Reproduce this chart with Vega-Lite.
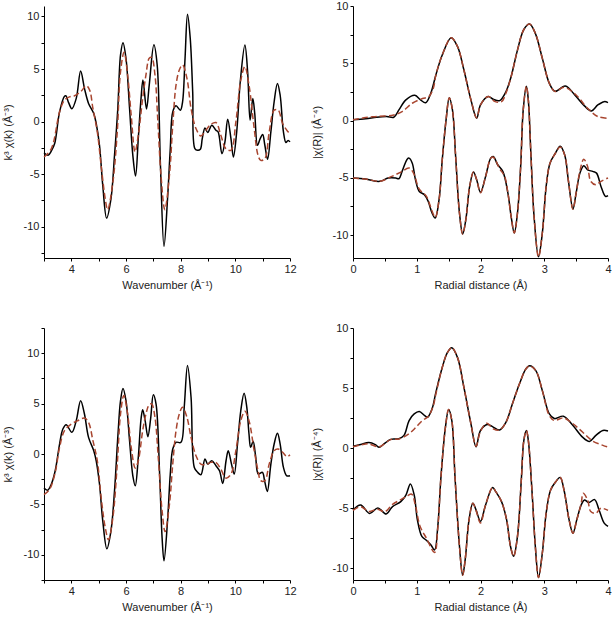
{
"$schema": "https://vega.github.io/schema/vega-lite/v6.json",
"padding": {"left": 2, "top": 0, "right": 5, "bottom": 5},
"background": "white",
"config": {
  "view": {"stroke": null},
  "font": "Liberation Sans",
  "axis": {"grid": false, "domainColor": "#000", "tickColor": "#000", "tickSize": 3, "labelPadding": 2, "labelFontSize": 11, "titleFontSize": 11, "titleFontWeight": "normal", "labelColor": "#222", "titleColor": "#222", "labelOverlap": false, "labelFlush": false, "labelFont": "Liberation Sans", "titleFont": "Liberation Sans"},
  "axisY": {"titlePadding": 10},
  "axisX": {"titlePadding": 5},
  "line": {"interpolate": "catmull-rom", "strokeWidth": 1.5}
},
"bounds": "flush",
"columns": 2,
"spacing": {"row": 70, "column": 63},
"datasets": {
"tl": [
{"s":"e","x":3.0,"y":-2.98},{"s":"e","x":3.15,"y":-3.22},{"s":"e","x":3.27,"y":-2.8},{"s":"e","x":3.39,"y":-2.1},{"s":"e","x":3.57,"y":0.92},{"s":"e","x":3.75,"y":2.4},{"s":"e","x":3.8,"y":2.45},{"s":"e","x":3.9,"y":1.8},{"s":"e","x":4.02,"y":1.22},{"s":"e","x":4.18,"y":2.2},{"s":"e","x":4.34,"y":4.8},{"s":"e","x":4.48,"y":3.15},{"s":"e","x":4.63,"y":1.72},{"s":"e","x":4.82,"y":0.76},{"s":"e","x":4.91,"y":-0.19},{"s":"e","x":5.03,"y":-2.26},{"s":"e","x":5.15,"y":-6.1},{"s":"e","x":5.29,"y":-9.2},{"s":"e","x":5.45,"y":-7.36},{"s":"e","x":5.58,"y":-3.22},{"s":"e","x":5.7,"y":1.24},{"s":"e","x":5.8,"y":6.34},{"s":"e","x":5.89,"y":7.5},{"s":"e","x":6.0,"y":6.0},{"s":"e","x":6.13,"y":1.24},{"s":"e","x":6.25,"y":-3.22},{"s":"e","x":6.35,"y":-5.2},{"s":"e","x":6.45,"y":-1.6},{"s":"e","x":6.55,"y":2.2},{"s":"e","x":6.62,"y":3.95},{"s":"e","x":6.75,"y":1.2},{"s":"e","x":6.85,"y":3.47},{"s":"e","x":7.02,"y":7.3},{"s":"e","x":7.14,"y":5.4},{"s":"e","x":7.26,"y":-4.17},{"s":"e","x":7.39,"y":-11.9},{"s":"e","x":7.52,"y":-7.36},{"s":"e","x":7.62,"y":-2.58},{"s":"e","x":7.71,"y":0.92},{"s":"e","x":7.83,"y":1.5},{"s":"e","x":7.99,"y":1.08},{"s":"e","x":8.07,"y":1.88},{"s":"e","x":8.16,"y":6.0},{"s":"e","x":8.25,"y":10.22},{"s":"e","x":8.35,"y":7.93},{"s":"e","x":8.44,"y":2.83},{"s":"e","x":8.52,"y":-2.58},{"s":"e","x":8.62,"y":-2.74},{"s":"e","x":8.72,"y":-2.64},{"s":"e","x":8.79,"y":-1.63},{"s":"e","x":8.89,"y":-0.61},{"s":"e","x":8.99,"y":-1.05},{"s":"e","x":9.14,"y":-0.35},{"s":"e","x":9.29,"y":-0.83},{"s":"e","x":9.37,"y":-0.99},{"s":"e","x":9.51,"y":-3.06},{"s":"e","x":9.62,"y":-1.94},{"s":"e","x":9.72,"y":0.22},{"s":"e","x":9.84,"y":-1.63},{"s":"e","x":9.93,"y":-3.38},{"s":"e","x":10.05,"y":-0.99},{"s":"e","x":10.18,"y":3.79},{"s":"e","x":10.35,"y":7.29},{"s":"e","x":10.45,"y":4.74},{"s":"e","x":10.54,"y":0.13},{"s":"e","x":10.64,"y":2.2},{"s":"e","x":10.71,"y":0.76},{"s":"e","x":10.81,"y":-2.26},{"s":"e","x":10.91,"y":-1.63},{"s":"e","x":11.0,"y":-1.24},{"s":"e","x":11.08,"y":-2.26},{"s":"e","x":11.18,"y":-3.6},{"s":"e","x":11.3,"y":-0.99},{"s":"e","x":11.42,"y":1.88},{"s":"e","x":11.54,"y":3.63},{"s":"e","x":11.64,"y":2.5},{"s":"e","x":11.76,"y":-0.99},{"s":"e","x":11.85,"y":-2.0},{"s":"e","x":11.93,"y":-1.8},{"s":"e","x":12.0,"y":-1.94},
{"s":"f","x":3.0,"y":-3.38},{"s":"f","x":3.27,"y":-2.58},{"s":"f","x":3.57,"y":0.92},{"s":"f","x":3.75,"y":2.04},{"s":"f","x":3.93,"y":2.35},{"s":"f","x":4.12,"y":2.45},{"s":"f","x":4.34,"y":2.83},{"s":"f","x":4.55,"y":3.4},{"s":"f","x":4.67,"y":2.99},{"s":"f","x":4.79,"y":1.24},{"s":"f","x":4.95,"y":-0.99},{"s":"f","x":5.09,"y":-4.17},{"s":"f","x":5.24,"y":-7.36},{"s":"f","x":5.33,"y":-8.4},{"s":"f","x":5.52,"y":-5.77},{"s":"f","x":5.68,"y":-0.99},{"s":"f","x":5.8,"y":4.74},{"s":"f","x":5.93,"y":6.6},{"s":"f","x":6.06,"y":4.43},{"s":"f","x":6.19,"y":0.6},{"s":"f","x":6.33,"y":-2.9},{"s":"f","x":6.45,"y":-1.31},{"s":"f","x":6.61,"y":2.2},{"s":"f","x":6.73,"y":4.43},{"s":"f","x":6.85,"y":6.02},{"s":"f","x":6.94,"y":6.1},{"s":"f","x":7.06,"y":4.43},{"s":"f","x":7.16,"y":0.28},{"s":"f","x":7.28,"y":-5.1},{"s":"f","x":7.42,"y":-8.4},{"s":"f","x":7.59,"y":-5.1},{"s":"f","x":7.71,"y":-0.35},{"s":"f","x":7.83,"y":3.47},{"s":"f","x":7.95,"y":4.9},{"s":"f","x":8.07,"y":5.38},{"s":"f","x":8.23,"y":4.1},{"s":"f","x":8.38,"y":1.24},{"s":"f","x":8.56,"y":-0.67},{"s":"f","x":8.74,"y":-1.37},{"s":"f","x":8.92,"y":-0.83},{"s":"f","x":9.1,"y":-0.29},{"s":"f","x":9.29,"y":-0.1},{"s":"f","x":9.47,"y":-1.31},{"s":"f","x":9.65,"y":-2.58},{"s":"f","x":9.84,"y":-2.74},{"s":"f","x":10.02,"y":-0.03},{"s":"f","x":10.2,"y":3.95},{"s":"f","x":10.35,"y":5.22},{"s":"f","x":10.5,"y":3.47},{"s":"f","x":10.69,"y":-0.67},{"s":"f","x":10.83,"y":-3.22},{"s":"f","x":10.93,"y":-3.7},{"s":"f","x":11.08,"y":-3.54},{"s":"f","x":11.24,"y":-0.99},{"s":"f","x":11.42,"y":1.08},{"s":"f","x":11.57,"y":1.08},{"s":"f","x":11.73,"y":-0.19},{"s":"f","x":11.91,"y":-0.92},{"s":"f","x":12.0,"y":-1.15}
],
"tr": [
{"s":"e","c":"m","x":0,"y":0.06},{"s":"e","c":"m","x":0.2,"y":0.15},{"s":"e","c":"m","x":0.37,"y":0.29},{"s":"e","c":"m","x":0.53,"y":0.35},{"s":"e","c":"m","x":0.64,"y":0.29},{"s":"e","c":"m","x":0.72,"y":0.93},{"s":"e","c":"m","x":0.83,"y":1.8},{"s":"e","c":"m","x":0.97,"y":2.2},{"s":"e","c":"m","x":1.06,"y":1.8},{"s":"e","c":"m","x":1.14,"y":1.55},{"s":"e","c":"m","x":1.22,"y":2.38},{"s":"e","c":"m","x":1.3,"y":3.98},{"s":"e","c":"m","x":1.4,"y":5.72},{"s":"e","c":"m","x":1.54,"y":7.23},{"s":"e","c":"m","x":1.64,"y":6.45},{"s":"e","c":"m","x":1.74,"y":4.41},{"s":"e","c":"m","x":1.85,"y":1.8},{"s":"e","c":"m","x":1.94,"y":0.2},{"s":"e","c":"m","x":2.0,"y":1.36},{"s":"e","c":"m","x":2.12,"y":2.1},{"s":"e","c":"m","x":2.2,"y":1.86},{"s":"e","c":"m","x":2.3,"y":1.74},{"s":"e","c":"m","x":2.4,"y":2.53},{"s":"e","c":"m","x":2.48,"y":3.83},{"s":"e","c":"m","x":2.58,"y":6.15},{"s":"e","c":"m","x":2.68,"y":7.95},{"s":"e","c":"m","x":2.77,"y":8.42},{"s":"e","c":"m","x":2.86,"y":7.61},{"s":"e","c":"m","x":2.97,"y":5.43},{"s":"e","c":"m","x":3.08,"y":3.25},{"s":"e","c":"m","x":3.17,"y":2.55},{"s":"e","c":"m","x":3.33,"y":3.02},{"s":"e","c":"m","x":3.5,"y":2.09},{"s":"e","c":"m","x":3.63,"y":1.28},{"s":"e","c":"m","x":3.74,"y":0.84},{"s":"e","c":"m","x":3.84,"y":1.36},{"s":"e","c":"m","x":3.94,"y":1.65},{"s":"e","c":"m","x":4.0,"y":1.57},
{"s":"f","c":"m","x":0,"y":0.06},{"s":"f","c":"m","x":0.2,"y":0.26},{"s":"f","c":"m","x":0.37,"y":0.35},{"s":"f","c":"m","x":0.64,"y":0.49},{"s":"f","c":"m","x":0.77,"y":0.78},{"s":"f","c":"m","x":0.93,"y":1.51},{"s":"f","c":"m","x":1.09,"y":1.92},{"s":"f","c":"m","x":1.19,"y":2.09},{"s":"f","c":"m","x":1.26,"y":2.82},{"s":"f","c":"m","x":1.3,"y":3.98},{"s":"f","c":"m","x":1.4,"y":5.72},{"s":"f","c":"m","x":1.54,"y":7.23},{"s":"f","c":"m","x":1.64,"y":6.45},{"s":"f","c":"m","x":1.74,"y":4.41},{"s":"f","c":"m","x":1.85,"y":1.8},{"s":"f","c":"m","x":1.94,"y":0.25},{"s":"f","c":"m","x":2.0,"y":1.36},{"s":"f","c":"m","x":2.12,"y":2.1},{"s":"f","c":"m","x":2.23,"y":1.65},{"s":"f","c":"m","x":2.33,"y":1.65},{"s":"f","c":"m","x":2.4,"y":2.4},{"s":"f","c":"m","x":2.48,"y":3.83},{"s":"f","c":"m","x":2.58,"y":6.15},{"s":"f","c":"m","x":2.68,"y":7.95},{"s":"f","c":"m","x":2.77,"y":8.42},{"s":"f","c":"m","x":2.86,"y":7.61},{"s":"f","c":"m","x":2.97,"y":5.43},{"s":"f","c":"m","x":3.08,"y":3.25},{"s":"f","c":"m","x":3.17,"y":2.53},{"s":"f","c":"m","x":3.31,"y":2.9},{"s":"f","c":"m","x":3.5,"y":2.23},{"s":"f","c":"m","x":3.68,"y":1.07},{"s":"f","c":"m","x":3.84,"y":0.35},{"s":"f","c":"m","x":4.0,"y":0.2},
{"s":"e","c":"r","x":0,"y":-5.02},{"s":"e","c":"r","x":0.2,"y":-5.11},{"s":"e","c":"r","x":0.42,"y":-5.31},{"s":"e","c":"r","x":0.55,"y":-5.02},{"s":"e","c":"r","x":0.67,"y":-5.02},{"s":"e","c":"r","x":0.72,"y":-5.08},{"s":"e","c":"r","x":0.77,"y":-4.44},{"s":"e","c":"r","x":0.85,"y":-3.37},{"s":"e","c":"r","x":0.88,"y":-3.28},{"s":"e","c":"r","x":0.93,"y":-3.72},{"s":"e","c":"r","x":0.98,"y":-5.17},{"s":"e","c":"r","x":1.04,"y":-6.19},{"s":"e","c":"r","x":1.12,"y":-6.48},{"s":"e","c":"r","x":1.18,"y":-7.06},{"s":"e","c":"r","x":1.24,"y":-8.07},{"s":"e","c":"r","x":1.29,"y":-8.51},{"s":"e","c":"r","x":1.35,"y":-6.91},{"s":"e","c":"r","x":1.4,"y":-3.43},{"s":"e","c":"r","x":1.46,"y":0.06},{"s":"e","c":"r","x":1.51,"y":2.0},{"s":"e","c":"r","x":1.56,"y":0.93},{"s":"e","c":"r","x":1.61,"y":-3.14},{"s":"e","c":"r","x":1.67,"y":-8.07},{"s":"e","c":"r","x":1.72,"y":-9.9},{"s":"e","c":"r","x":1.77,"y":-8.65},{"s":"e","c":"r","x":1.83,"y":-5.75},{"s":"e","c":"r","x":1.89,"y":-4.5},{"s":"e","c":"r","x":1.94,"y":-5.17},{"s":"e","c":"r","x":2.0,"y":-6.27},{"s":"e","c":"r","x":2.08,"y":-4.88},{"s":"e","c":"r","x":2.16,"y":-3.28},{"s":"e","c":"r","x":2.2,"y":-3.14},{"s":"e","c":"r","x":2.27,"y":-3.86},{"s":"e","c":"r","x":2.35,"y":-4.44},{"s":"e","c":"r","x":2.43,"y":-6.33},{"s":"e","c":"r","x":2.48,"y":-8.36},{"s":"e","c":"r","x":2.53,"y":-9.82},{"s":"e","c":"r","x":2.58,"y":-8.07},{"s":"e","c":"r","x":2.63,"y":-4.01},{"s":"e","c":"r","x":2.67,"y":0.93},{"s":"e","c":"r","x":2.72,"y":3.0},{"s":"e","c":"r","x":2.75,"y":1.8},{"s":"e","c":"r","x":2.79,"y":-2.85},{"s":"e","c":"r","x":2.84,"y":-8.36},{"s":"e","c":"r","x":2.91,"y":-11.9},{"s":"e","c":"r","x":2.97,"y":-9.82},{"s":"e","c":"r","x":3.03,"y":-5.75},{"s":"e","c":"r","x":3.09,"y":-3.72},{"s":"e","c":"r","x":3.17,"y":-2.9},{"s":"e","c":"r","x":3.25,"y":-2.25},{"s":"e","c":"r","x":3.32,"y":-2.99},{"s":"e","c":"r","x":3.38,"y":-5.31},{"s":"e","c":"r","x":3.45,"y":-7.72},{"s":"e","c":"r","x":3.5,"y":-6.33},{"s":"e","c":"r","x":3.56,"y":-4.59},{"s":"e","c":"r","x":3.62,"y":-3.95},{"s":"e","c":"r","x":3.68,"y":-4.3},{"s":"e","c":"r","x":3.76,"y":-4.44},{"s":"e","c":"r","x":3.82,"y":-4.59},{"s":"e","c":"r","x":3.89,"y":-5.75},{"s":"e","c":"r","x":3.96,"y":-6.62},{"s":"e","c":"r","x":4.0,"y":-6.56},
{"s":"f","c":"r","x":0,"y":-5.02},{"s":"f","c":"r","x":0.2,"y":-5.11},{"s":"f","c":"r","x":0.42,"y":-5.3},{"s":"f","c":"r","x":0.6,"y":-4.9},{"s":"f","c":"r","x":0.75,"y":-4.5},{"s":"f","c":"r","x":0.88,"y":-4.15},{"s":"f","c":"r","x":0.95,"y":-4.6},{"s":"f","c":"r","x":1.04,"y":-6.0},{"s":"f","c":"r","x":1.15,"y":-6.6},{"s":"f","c":"r","x":1.24,"y":-7.9},{"s":"f","c":"r","x":1.29,"y":-8.45},{"s":"f","c":"r","x":1.35,"y":-6.91},{"s":"f","c":"r","x":1.4,"y":-3.43},{"s":"f","c":"r","x":1.46,"y":0.06},{"s":"f","c":"r","x":1.51,"y":2.0},{"s":"f","c":"r","x":1.56,"y":0.93},{"s":"f","c":"r","x":1.61,"y":-3.14},{"s":"f","c":"r","x":1.67,"y":-8.07},{"s":"f","c":"r","x":1.72,"y":-9.9},{"s":"f","c":"r","x":1.77,"y":-8.65},{"s":"f","c":"r","x":1.83,"y":-5.75},{"s":"f","c":"r","x":1.89,"y":-4.5},{"s":"f","c":"r","x":1.94,"y":-5.17},{"s":"f","c":"r","x":2.0,"y":-6.3},{"s":"f","c":"r","x":2.08,"y":-4.88},{"s":"f","c":"r","x":2.16,"y":-3.3},{"s":"f","c":"r","x":2.2,"y":-3.2},{"s":"f","c":"r","x":2.3,"y":-4.2},{"s":"f","c":"r","x":2.38,"y":-4.9},{"s":"f","c":"r","x":2.43,"y":-6.33},{"s":"f","c":"r","x":2.48,"y":-8.36},{"s":"f","c":"r","x":2.53,"y":-9.82},{"s":"f","c":"r","x":2.58,"y":-8.07},{"s":"f","c":"r","x":2.63,"y":-4.01},{"s":"f","c":"r","x":2.67,"y":0.93},{"s":"f","c":"r","x":2.72,"y":3.0},{"s":"f","c":"r","x":2.75,"y":1.8},{"s":"f","c":"r","x":2.79,"y":-2.85},{"s":"f","c":"r","x":2.84,"y":-8.36},{"s":"f","c":"r","x":2.91,"y":-11.9},{"s":"f","c":"r","x":2.97,"y":-9.82},{"s":"f","c":"r","x":3.03,"y":-5.75},{"s":"f","c":"r","x":3.09,"y":-3.72},{"s":"f","c":"r","x":3.17,"y":-2.9},{"s":"f","c":"r","x":3.25,"y":-2.3},{"s":"f","c":"r","x":3.32,"y":-3.0},{"s":"f","c":"r","x":3.38,"y":-5.31},{"s":"f","c":"r","x":3.45,"y":-7.75},{"s":"f","c":"r","x":3.5,"y":-6.33},{"s":"f","c":"r","x":3.56,"y":-4.4},{"s":"f","c":"r","x":3.62,"y":-3.37},{"s":"f","c":"r","x":3.68,"y":-4.01},{"s":"f","c":"r","x":3.73,"y":-5.31},{"s":"f","c":"r","x":3.81,"y":-5.6},{"s":"f","c":"r","x":3.89,"y":-5.31},{"s":"f","c":"r","x":4.0,"y":-5.02}
],
"bl": [
{"s":"e","x":3.0,"y":-3.38},{"s":"e","x":3.13,"y":-3.6},{"s":"e","x":3.27,"y":-2.98},{"s":"e","x":3.41,"y":-1.66},{"s":"e","x":3.57,"y":0.99},{"s":"e","x":3.69,"y":2.48},{"s":"e","x":3.81,"y":2.91},{"s":"e","x":4.02,"y":2.15},{"s":"e","x":4.18,"y":3.31},{"s":"e","x":4.34,"y":5.29},{"s":"e","x":4.48,"y":3.97},{"s":"e","x":4.63,"y":1.65},{"s":"e","x":4.82,"y":0.33},{"s":"e","x":4.91,"y":-0.67},{"s":"e","x":5.03,"y":-2.98},{"s":"e","x":5.15,"y":-6.63},{"s":"e","x":5.3,"y":-9.4},{"s":"e","x":5.45,"y":-7.62},{"s":"e","x":5.58,"y":-3.65},{"s":"e","x":5.7,"y":1.65},{"s":"e","x":5.8,"y":5.29},{"s":"e","x":5.89,"y":6.5},{"s":"e","x":6.0,"y":5.29},{"s":"e","x":6.13,"y":1.32},{"s":"e","x":6.25,"y":-2.16},{"s":"e","x":6.34,"y":-3.15},{"s":"e","x":6.45,"y":-0.33},{"s":"e","x":6.55,"y":3.47},{"s":"e","x":6.61,"y":4.4},{"s":"e","x":6.7,"y":3.31},{"s":"e","x":6.8,"y":1.72},{"s":"e","x":6.9,"y":3.47},{"s":"e","x":7.0,"y":5.89},{"s":"e","x":7.1,"y":4.96},{"s":"e","x":7.23,"y":-1.99},{"s":"e","x":7.32,"y":-8.28},{"s":"e","x":7.39,"y":-10.6},{"s":"e","x":7.52,"y":-6.63},{"s":"e","x":7.62,"y":-1.99},{"s":"e","x":7.71,"y":0.49},{"s":"e","x":7.83,"y":1.16},{"s":"e","x":8.01,"y":1.16},{"s":"e","x":8.13,"y":4.63},{"s":"e","x":8.25,"y":8.77},{"s":"e","x":8.38,"y":5.63},{"s":"e","x":8.5,"y":-1.33},{"s":"e","x":8.62,"y":-1.82},{"s":"e","x":8.74,"y":-2.06},{"s":"e","x":8.89,"y":-0.5},{"s":"e","x":8.99,"y":-1.0},{"s":"e","x":9.14,"y":-0.67},{"s":"e","x":9.29,"y":-1.16},{"s":"e","x":9.42,"y":-1.66},{"s":"e","x":9.54,"y":-2.92},{"s":"e","x":9.66,"y":-0.67},{"s":"e","x":9.74,"y":0.33},{"s":"e","x":9.86,"y":-1.0},{"s":"e","x":9.96,"y":-1.99},{"s":"e","x":10.08,"y":0.99},{"s":"e","x":10.2,"y":4.3},{"s":"e","x":10.32,"y":6.02},{"s":"e","x":10.42,"y":4.63},{"s":"e","x":10.5,"y":1.98},{"s":"e","x":10.56,"y":0.66},{"s":"e","x":10.65,"y":1.26},{"s":"e","x":10.74,"y":-0.17},{"s":"e","x":10.84,"y":-1.99},{"s":"e","x":10.99,"y":-1.82},{"s":"e","x":11.07,"y":-2.65},{"s":"e","x":11.17,"y":-3.71},{"s":"e","x":11.3,"y":-1.0},{"s":"e","x":11.42,"y":0.99},{"s":"e","x":11.54,"y":2.05},{"s":"e","x":11.64,"y":0.99},{"s":"e","x":11.76,"y":-1.33},{"s":"e","x":11.88,"y":-2.16},{"s":"e","x":12.0,"y":-2.16},
{"s":"f","x":3.0,"y":-4.04},{"s":"f","x":3.21,"y":-3.48},{"s":"f","x":3.41,"y":-1.82},{"s":"f","x":3.57,"y":0.66},{"s":"f","x":3.75,"y":2.31},{"s":"f","x":4.0,"y":2.98},{"s":"f","x":4.24,"y":3.31},{"s":"f","x":4.48,"y":3.57},{"s":"f","x":4.63,"y":3.14},{"s":"f","x":4.79,"y":1.32},{"s":"f","x":4.95,"y":-0.67},{"s":"f","x":5.09,"y":-4.31},{"s":"f","x":5.24,"y":-7.29},{"s":"f","x":5.36,"y":-8.5},{"s":"f","x":5.52,"y":-6.3},{"s":"f","x":5.68,"y":-1.0},{"s":"f","x":5.8,"y":3.97},{"s":"f","x":5.92,"y":5.8},{"s":"f","x":6.06,"y":3.97},{"s":"f","x":6.19,"y":0.66},{"s":"f","x":6.34,"y":-1.4},{"s":"f","x":6.45,"y":-0.67},{"s":"f","x":6.61,"y":2.31},{"s":"f","x":6.73,"y":3.97},{"s":"f","x":6.85,"y":4.9},{"s":"f","x":6.94,"y":4.96},{"s":"f","x":7.06,"y":3.64},{"s":"f","x":7.18,"y":-0.33},{"s":"f","x":7.32,"y":-5.63},{"s":"f","x":7.43,"y":-7.7},{"s":"f","x":7.59,"y":-4.97},{"s":"f","x":7.71,"y":-1.0},{"s":"f","x":7.83,"y":2.31},{"s":"f","x":7.95,"y":3.97},{"s":"f","x":8.07,"y":4.65},{"s":"f","x":8.23,"y":3.64},{"s":"f","x":8.38,"y":1.65},{"s":"f","x":8.56,"y":-0.17},{"s":"f","x":8.74,"y":-1.0},{"s":"f","x":8.92,"y":-1.06},{"s":"f","x":9.1,"y":-0.83},{"s":"f","x":9.29,"y":-0.83},{"s":"f","x":9.47,"y":-1.49},{"s":"f","x":9.65,"y":-2.39},{"s":"f","x":9.84,"y":-1.99},{"s":"f","x":10.02,"y":0.33},{"s":"f","x":10.2,"y":3.31},{"s":"f","x":10.35,"y":4.24},{"s":"f","x":10.5,"y":3.31},{"s":"f","x":10.69,"y":0.33},{"s":"f","x":10.83,"y":-1.66},{"s":"f","x":10.93,"y":-2.65},{"s":"f","x":11.08,"y":-2.65},{"s":"f","x":11.24,"y":-1.0},{"s":"f","x":11.42,"y":0.33},{"s":"f","x":11.57,"y":0.49},{"s":"f","x":11.73,"y":0.17},{"s":"f","x":11.89,"y":-0.26},{"s":"f","x":12.0,"y":-0.07}
],
"br": [
{"s":"e","c":"m","x":0,"y":0.14},{"s":"e","c":"m","x":0.12,"y":0.3},{"s":"e","c":"m","x":0.25,"y":0.45},{"s":"e","c":"m","x":0.35,"y":0.28},{"s":"e","c":"m","x":0.41,"y":0.06},{"s":"e","c":"m","x":0.49,"y":0.36},{"s":"e","c":"m","x":0.59,"y":0.72},{"s":"e","c":"m","x":0.72,"y":0.77},{"s":"e","c":"m","x":0.8,"y":1.05},{"s":"e","c":"m","x":0.88,"y":2.29},{"s":"e","c":"m","x":0.96,"y":2.84},{"s":"e","c":"m","x":1.04,"y":3.04},{"s":"e","c":"m","x":1.12,"y":2.71},{"s":"e","c":"m","x":1.17,"y":2.57},{"s":"e","c":"m","x":1.24,"y":3.26},{"s":"e","c":"m","x":1.3,"y":4.64},{"s":"e","c":"m","x":1.4,"y":6.71},{"s":"e","c":"m","x":1.48,"y":7.95},{"s":"e","c":"m","x":1.55,"y":8.36},{"s":"e","c":"m","x":1.64,"y":7.53},{"s":"e","c":"m","x":1.74,"y":5.05},{"s":"e","c":"m","x":1.85,"y":2.02},{"s":"e","c":"m","x":1.93,"y":0.1},{"s":"e","c":"m","x":2.0,"y":1.46},{"s":"e","c":"m","x":2.11,"y":1.96},{"s":"e","c":"m","x":2.2,"y":1.74},{"s":"e","c":"m","x":2.3,"y":1.5},{"s":"e","c":"m","x":2.4,"y":2.15},{"s":"e","c":"m","x":2.5,"y":3.67},{"s":"e","c":"m","x":2.61,"y":5.33},{"s":"e","c":"m","x":2.71,"y":6.57},{"s":"e","c":"m","x":2.77,"y":6.85},{"s":"e","c":"m","x":2.87,"y":6.43},{"s":"e","c":"m","x":2.97,"y":4.78},{"s":"e","c":"m","x":3.08,"y":2.84},{"s":"e","c":"m","x":3.16,"y":2.45},{"s":"e","c":"m","x":3.3,"y":2.65},{"s":"e","c":"m","x":3.45,"y":1.88},{"s":"e","c":"m","x":3.6,"y":0.91},{"s":"e","c":"m","x":3.71,"y":0.55},{"s":"e","c":"m","x":3.81,"y":1.05},{"s":"e","c":"m","x":3.92,"y":1.46},{"s":"e","c":"m","x":4.0,"y":1.41},
{"s":"f","c":"m","x":0,"y":0.1},{"s":"f","c":"m","x":0.12,"y":0.25},{"s":"f","c":"m","x":0.24,"y":0.35},{"s":"f","c":"m","x":0.41,"y":0.1},{"s":"f","c":"m","x":0.59,"y":0.7},{"s":"f","c":"m","x":0.72,"y":0.75},{"s":"f","c":"m","x":0.88,"y":1.19},{"s":"f","c":"m","x":0.99,"y":1.74},{"s":"f","c":"m","x":1.09,"y":2.29},{"s":"f","c":"m","x":1.18,"y":2.62},{"s":"f","c":"m","x":1.26,"y":3.53},{"s":"f","c":"m","x":1.3,"y":4.5},{"s":"f","c":"m","x":1.4,"y":6.71},{"s":"f","c":"m","x":1.48,"y":7.95},{"s":"f","c":"m","x":1.55,"y":8.36},{"s":"f","c":"m","x":1.64,"y":7.53},{"s":"f","c":"m","x":1.74,"y":5.05},{"s":"f","c":"m","x":1.85,"y":2.02},{"s":"f","c":"m","x":1.93,"y":0.15},{"s":"f","c":"m","x":2.0,"y":1.4},{"s":"f","c":"m","x":2.1,"y":2.07},{"s":"f","c":"m","x":2.2,"y":1.6},{"s":"f","c":"m","x":2.3,"y":1.5},{"s":"f","c":"m","x":2.4,"y":2.15},{"s":"f","c":"m","x":2.5,"y":3.67},{"s":"f","c":"m","x":2.61,"y":5.33},{"s":"f","c":"m","x":2.71,"y":6.57},{"s":"f","c":"m","x":2.77,"y":6.85},{"s":"f","c":"m","x":2.87,"y":6.43},{"s":"f","c":"m","x":2.97,"y":4.78},{"s":"f","c":"m","x":3.08,"y":2.7},{"s":"f","c":"m","x":3.16,"y":2.29},{"s":"f","c":"m","x":3.3,"y":2.51},{"s":"f","c":"m","x":3.45,"y":2.02},{"s":"f","c":"m","x":3.6,"y":1.33},{"s":"f","c":"m","x":3.76,"y":0.58},{"s":"f","c":"m","x":3.92,"y":0.22},{"s":"f","c":"m","x":4.0,"y":0.08},
{"s":"e","c":"r","x":0,"y":-5.16},{"s":"e","c":"r","x":0.12,"y":-4.75},{"s":"e","c":"r","x":0.26,"y":-5.45},{"s":"e","c":"r","x":0.39,"y":-5.0},{"s":"e","c":"r","x":0.52,"y":-5.5},{"s":"e","c":"r","x":0.62,"y":-4.88},{"s":"e","c":"r","x":0.75,"y":-4.47},{"s":"e","c":"r","x":0.83,"y":-3.92},{"s":"e","c":"r","x":0.9,"y":-3.0},{"s":"e","c":"r","x":0.96,"y":-3.92},{"s":"e","c":"r","x":1.01,"y":-5.99},{"s":"e","c":"r","x":1.08,"y":-7.37},{"s":"e","c":"r","x":1.14,"y":-7.64},{"s":"e","c":"r","x":1.22,"y":-8.06},{"s":"e","c":"r","x":1.28,"y":-8.5},{"s":"e","c":"r","x":1.33,"y":-6.54},{"s":"e","c":"r","x":1.38,"y":-2.4},{"s":"e","c":"r","x":1.45,"y":1.74},{"s":"e","c":"r","x":1.5,"y":3.2},{"s":"e","c":"r","x":1.55,"y":2.29},{"s":"e","c":"r","x":1.6,"y":-2.4},{"s":"e","c":"r","x":1.67,"y":-8.19},{"s":"e","c":"r","x":1.72,"y":-10.6},{"s":"e","c":"r","x":1.76,"y":-9.3},{"s":"e","c":"r","x":1.82,"y":-5.99},{"s":"e","c":"r","x":1.88,"y":-4.6},{"s":"e","c":"r","x":1.93,"y":-5.16},{"s":"e","c":"r","x":2.0,"y":-6.1},{"s":"e","c":"r","x":2.08,"y":-4.74},{"s":"e","c":"r","x":2.19,"y":-3.3},{"s":"e","c":"r","x":2.24,"y":-3.64},{"s":"e","c":"r","x":2.33,"y":-4.47},{"s":"e","c":"r","x":2.41,"y":-5.99},{"s":"e","c":"r","x":2.47,"y":-8.19},{"s":"e","c":"r","x":2.52,"y":-9.02},{"s":"e","c":"r","x":2.58,"y":-7.37},{"s":"e","c":"r","x":2.64,"y":-2.68},{"s":"e","c":"r","x":2.68,"y":0.64},{"s":"e","c":"r","x":2.72,"y":1.45},{"s":"e","c":"r","x":2.75,"y":0.64},{"s":"e","c":"r","x":2.81,"y":-3.78},{"s":"e","c":"r","x":2.86,"y":-8.19},{"s":"e","c":"r","x":2.91,"y":-10.8},{"s":"e","c":"r","x":2.97,"y":-8.75},{"s":"e","c":"r","x":3.03,"y":-5.43},{"s":"e","c":"r","x":3.1,"y":-3.5},{"s":"e","c":"r","x":3.18,"y":-2.81},{"s":"e","c":"r","x":3.25,"y":-2.45},{"s":"e","c":"r","x":3.31,"y":-3.5},{"s":"e","c":"r","x":3.39,"y":-5.99},{"s":"e","c":"r","x":3.45,"y":-7.1},{"s":"e","c":"r","x":3.51,"y":-5.99},{"s":"e","c":"r","x":3.58,"y":-4.74},{"s":"e","c":"r","x":3.63,"y":-4.33},{"s":"e","c":"r","x":3.7,"y":-4.55},{"s":"e","c":"r","x":3.79,"y":-4.3},{"s":"e","c":"r","x":3.86,"y":-5.16},{"s":"e","c":"r","x":3.94,"y":-6.26},{"s":"e","c":"r","x":4.0,"y":-6.54},
{"s":"f","c":"r","x":0,"y":-5.2},{"s":"f","c":"r","x":0.12,"y":-4.9},{"s":"f","c":"r","x":0.25,"y":-5.3},{"s":"f","c":"r","x":0.38,"y":-5.1},{"s":"f","c":"r","x":0.5,"y":-5.3},{"s":"f","c":"r","x":0.62,"y":-4.7},{"s":"f","c":"r","x":0.75,"y":-4.3},{"s":"f","c":"r","x":0.85,"y":-4.0},{"s":"f","c":"r","x":0.92,"y":-3.85},{"s":"f","c":"r","x":0.98,"y":-4.8},{"s":"f","c":"r","x":1.05,"y":-6.5},{"s":"f","c":"r","x":1.15,"y":-7.5},{"s":"f","c":"r","x":1.28,"y":-8.7},{"s":"f","c":"r","x":1.33,"y":-6.7},{"s":"f","c":"r","x":1.38,"y":-2.4},{"s":"f","c":"r","x":1.45,"y":1.74},{"s":"f","c":"r","x":1.5,"y":3.2},{"s":"f","c":"r","x":1.55,"y":2.29},{"s":"f","c":"r","x":1.6,"y":-2.4},{"s":"f","c":"r","x":1.67,"y":-8.19},{"s":"f","c":"r","x":1.72,"y":-10.6},{"s":"f","c":"r","x":1.76,"y":-9.3},{"s":"f","c":"r","x":1.82,"y":-5.99},{"s":"f","c":"r","x":1.88,"y":-4.6},{"s":"f","c":"r","x":1.93,"y":-5.2},{"s":"f","c":"r","x":2.0,"y":-6.25},{"s":"f","c":"r","x":2.08,"y":-4.74},{"s":"f","c":"r","x":2.19,"y":-3.3},{"s":"f","c":"r","x":2.24,"y":-3.64},{"s":"f","c":"r","x":2.33,"y":-4.47},{"s":"f","c":"r","x":2.41,"y":-5.99},{"s":"f","c":"r","x":2.47,"y":-8.19},{"s":"f","c":"r","x":2.52,"y":-9.02},{"s":"f","c":"r","x":2.58,"y":-7.37},{"s":"f","c":"r","x":2.64,"y":-2.68},{"s":"f","c":"r","x":2.68,"y":0.64},{"s":"f","c":"r","x":2.72,"y":1.45},{"s":"f","c":"r","x":2.75,"y":0.64},{"s":"f","c":"r","x":2.81,"y":-3.78},{"s":"f","c":"r","x":2.86,"y":-8.19},{"s":"f","c":"r","x":2.91,"y":-10.8},{"s":"f","c":"r","x":2.97,"y":-8.75},{"s":"f","c":"r","x":3.03,"y":-5.43},{"s":"f","c":"r","x":3.1,"y":-3.5},{"s":"f","c":"r","x":3.18,"y":-2.81},{"s":"f","c":"r","x":3.25,"y":-2.45},{"s":"f","c":"r","x":3.31,"y":-3.5},{"s":"f","c":"r","x":3.39,"y":-5.99},{"s":"f","c":"r","x":3.45,"y":-7.1},{"s":"f","c":"r","x":3.51,"y":-5.99},{"s":"f","c":"r","x":3.58,"y":-4.6},{"s":"f","c":"r","x":3.61,"y":-3.78},{"s":"f","c":"r","x":3.68,"y":-4.33},{"s":"f","c":"r","x":3.73,"y":-5.3},{"s":"f","c":"r","x":3.81,"y":-5.43},{"s":"f","c":"r","x":3.89,"y":-5.02},{"s":"f","c":"r","x":4.0,"y":-5.2}
]
},
"concat": [
{
  "width": 246, "height": 252,
  "data": {"name": "tl"},
  "encoding": {
    "x": {"field": "x", "type": "quantitative", "scale": {"domain": [3, 12], "nice": false, "zero": false}, "axis": {"title": "Wavenumber (Å⁻¹)", "values": [3,4,5,6,7,8,9,10,11,12], "labelExpr": "datum.value % 2 === 0 ? '' + datum.value : ''"}},
    "y": {"field": "y", "type": "quantitative", "scale": {"domain": [-13, 11], "nice": false, "zero": false}, "axis": {"title": "k³ χ(k) (Å⁻³)", "values": [-12.5,-10,-7.5,-5,-2.5,0,2.5,5,7.5,10], "labelExpr": "datum.value % 5 === 0 ? '' + datum.value : ''"}}
  },
  "layer": [
    {"transform": [{"filter": "datum.s === 'e'"}], "mark": {"type": "line", "color": "#000"}},
    {"transform": [{"filter": "datum.s === 'f'"}], "mark": {"type": "line", "color": "#a8452f", "strokeDash": [6, 3]}}
  ]
},
{
  "width": 255, "height": 252,
  "data": {"name": "tr"},
  "encoding": {
    "x": {"field": "x", "type": "quantitative", "scale": {"domain": [0, 4], "nice": false}, "axis": {"title": "Radial distance (Å)", "values": [0,0.5,1,1.5,2,2.5,3,3.5,4], "labelExpr": "datum.value % 1 === 0 ? '' + datum.value : ''"}},
    "y": {"field": "y", "type": "quantitative", "scale": {"domain": [-12, 10], "nice": false, "zero": false}, "axis": {"title": "|χ(R)| (Å⁻⁴)", "values": [-10,-7.5,-5,-2.5,0,2.5,5,7.5,10], "labelExpr": "datum.value % 5 === 0 ? '' + datum.value : ''"}},
    "detail": {"field": "c"}
  },
  "layer": [
    {"transform": [{"filter": "datum.s === 'e'"}], "mark": {"type": "line", "color": "#000"}},
    {"transform": [{"filter": "datum.s === 'f'"}], "mark": {"type": "line", "color": "#a8452f", "strokeDash": [6, 3]}}
  ]
},
{
  "width": 246, "height": 252,
  "data": {"name": "bl"},
  "encoding": {
    "x": {"field": "x", "type": "quantitative", "scale": {"domain": [3, 12], "nice": false, "zero": false}, "axis": {"title": "Wavenumber (Å⁻¹)", "values": [3,4,5,6,7,8,9,10,11,12], "labelExpr": "datum.value % 2 === 0 ? '' + datum.value : ''"}},
    "y": {"field": "y", "type": "quantitative", "scale": {"domain": [-12.5, 12.5], "nice": false, "zero": false}, "axis": {"title": "k³ χ(k) (Å⁻³)", "values": [-12.5,-10,-7.5,-5,-2.5,0,2.5,5,7.5,10,12.5], "labelExpr": "datum.value % 5 === 0 ? '' + datum.value : ''"}}
  },
  "layer": [
    {"transform": [{"filter": "datum.s === 'e'"}], "mark": {"type": "line", "color": "#000"}},
    {"transform": [{"filter": "datum.s === 'f'"}], "mark": {"type": "line", "color": "#a8452f", "strokeDash": [6, 3]}}
  ]
},
{
  "width": 255, "height": 252,
  "data": {"name": "br"},
  "encoding": {
    "x": {"field": "x", "type": "quantitative", "scale": {"domain": [0, 4], "nice": false}, "axis": {"title": "Radial distance (Å)", "values": [0,0.5,1,1.5,2,2.5,3,3.5,4], "labelExpr": "datum.value % 1 === 0 ? '' + datum.value : ''"}},
    "y": {"field": "y", "type": "quantitative", "scale": {"domain": [-11, 10], "nice": false, "zero": false}, "axis": {"title": "|χ(R)| (Å⁻⁴)", "values": [-10,-7.5,-5,-2.5,0,2.5,5,7.5,10], "labelExpr": "datum.value % 5 === 0 ? '' + datum.value : ''"}},
    "detail": {"field": "c"}
  },
  "layer": [
    {"transform": [{"filter": "datum.s === 'e'"}], "mark": {"type": "line", "color": "#000"}},
    {"transform": [{"filter": "datum.s === 'f'"}], "mark": {"type": "line", "color": "#a8452f", "strokeDash": [6, 3]}}
  ]
}
]
}
